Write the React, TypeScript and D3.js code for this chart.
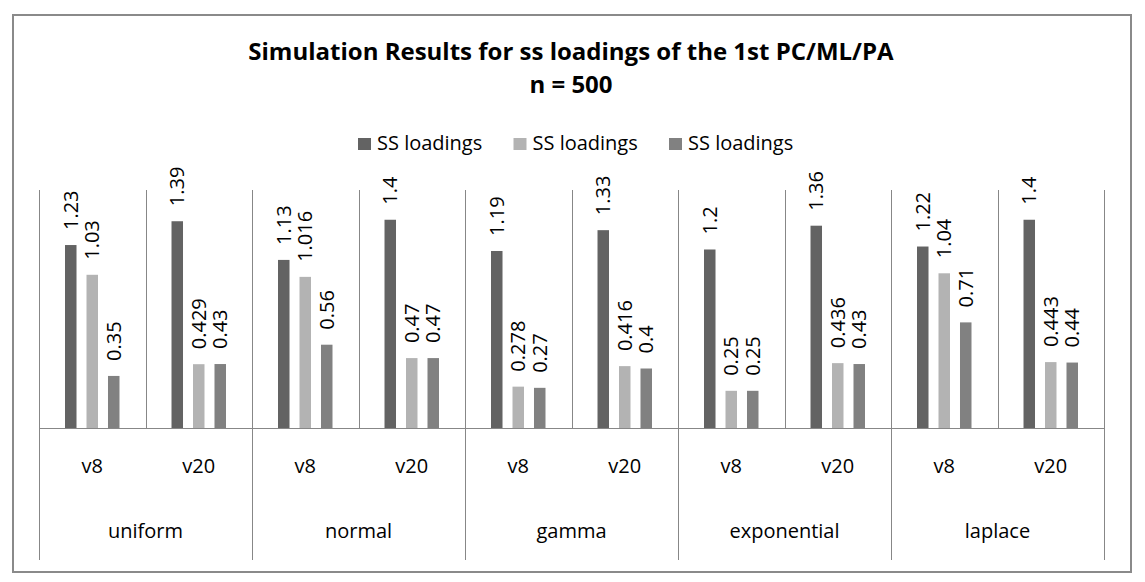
import { useEffect, useRef } from 'react';
import * as d3 from 'd3';

// chart data
const distributions = ['uniform', 'normal', 'gamma', 'exponential', 'laplace'];
const variables = ['v8', 'v20'];
const seriesNames = ['SS loadings', 'SS loadings', 'SS loadings'];
const seriesColors = ['#636363', '#b3b3b3', '#818181'];

// one row per distribution/variable pair, in the order above
const seriesPC = [1.23, 1.39, 1.13, 1.4, 1.19, 1.33, 1.2, 1.36, 1.22, 1.4];
const seriesML = [1.03, 0.429, 1.016, 0.47, 0.278, 0.416, 0.25, 0.436, 1.04, 0.443];
const seriesPA = [0.35, 0.43, 0.56, 0.47, 0.27, 0.4, 0.25, 0.43, 0.71, 0.44];

const FONT = "'Open Sans', 'Noto Sans', sans-serif";

const App = () => {
  const svgRef = useRef<SVGSVGElement>(null);

  useEffect(() => {
    if (!svgRef.current) return;
    document.body.style.margin = '0';

    const svg = d3.select(svgRef.current);
    svg.selectAll('*').remove();

    const width = 1145;
    const height = 582;
    const plot = { left: 39, right: 1104, top: 190, bottom: 428, catBottom: 560 };
    const gray = '#878787';

    // outer frame
    svg.append('rect')
      .attr('x', 13).attr('y', 15)
      .attr('width', 1118).attr('height', 557)
      .attr('fill', 'white')
      .attr('stroke', '#8a8a8a')
      .attr('stroke-width', 2);

    // title
    const title = svg.append('text')
      .attr('text-anchor', 'middle')
      .attr('font-family', FONT)
      .attr('font-weight', 700)
      .attr('font-size', 24)
      .attr('fill', 'black');
    title.append('tspan').attr('x', 571).attr('y', 60)
      .text('Simulation Results for ss loadings of the 1st PC/ML/PA');
    title.append('tspan').attr('x', 571).attr('y', 93).text('n = 500');

    // legend
    const legend = svg.append('g').attr('transform', 'translate(358, 138)');
    seriesNames.forEach((name, i) => {
      const item = legend.append('g').attr('transform', `translate(${i * 155.5}, 0)`);
      item.append('rect').attr('width', 13).attr('height', 12).attr('fill', seriesColors[i]);
      item.append('text')
        .attr('x', 19).attr('y', 12)
        .attr('font-family', FONT)
        .attr('font-size', 20)
        .attr('fill', 'black')
        .text(name);
    });

    // scales
    const groups = distributions.flatMap(d => variables.map(v => `${d}|${v}`));
    const x0 = d3.scaleBand().domain(groups).range([plot.left, plot.right]);
    const x1 = d3.scaleBand<number>()
      .domain([0, 1, 2])
      .range([0, x0.bandwidth()])
      .paddingInner(0.465)
      .paddingOuter(1.21);
    const y = d3.scaleLinear().domain([0, 1.6]).range([plot.bottom, plot.top]);

    // grid lines between groups
    groups.forEach((g, i) => {
      const gx = Math.round(x0(g)!) + 0.5;
      svg.append('line')
        .attr('x1', gx).attr('x2', gx)
        .attr('y1', plot.top).attr('y2', i % 2 === 0 ? plot.catBottom : plot.bottom)
        .attr('stroke', gray);
    });
    svg.append('line')
      .attr('x1', plot.right + 0.5).attr('x2', plot.right + 0.5)
      .attr('y1', plot.top).attr('y2', plot.catBottom)
      .attr('stroke', gray);

    // bars
    const allSeries = [seriesPC, seriesML, seriesPA];
    allSeries.forEach((vals, s) => {
      svg.selectAll(`.bar-${s}`)
        .data(vals)
        .join('rect')
        .attr('class', `bar-${s}`)
        .attr('x', (_, i) => x0(groups[i])! + x1(s)!)
        .attr('y', d => y(d))
        .attr('width', x1.bandwidth())
        .attr('height', d => plot.bottom - y(d))
        .attr('fill', seriesColors[s]);

      svg.selectAll(`.label-${s}`)
        .data(vals)
        .join('text')
        .attr('class', `label-${s}`)
        .attr('transform', (d, i) => {
          const cx = x0(groups[i])! + x1(s)! + x1.bandwidth() / 2;
          return `translate(${cx}, ${y(d) - 15}) rotate(-90)`;
        })
        .attr('dy', '0.36em')
        .attr('font-family', FONT)
        .attr('font-size', 20)
        .attr('fill', 'black')
        .text(d => String(d));
    });

    // baseline
    svg.append('line')
      .attr('x1', plot.left).attr('x2', plot.right + 1)
      .attr('y1', plot.bottom + 0.5).attr('y2', plot.bottom + 0.5)
      .attr('stroke', gray);

    // variable labels
    svg.selectAll('.var-label')
      .data(groups)
      .join('text')
      .attr('class', 'var-label')
      .attr('x', g => x0(g)! + x0.bandwidth() / 2)
      .attr('y', 473)
      .attr('text-anchor', 'middle')
      .attr('font-family', FONT)
      .attr('font-size', 20)
      .attr('fill', 'black')
      .text(g => g.split('|')[1]);

    // distribution labels
    svg.selectAll('.dist-label')
      .data(distributions)
      .join('text')
      .attr('class', 'dist-label')
      .attr('x', d => x0(`${d}|${variables[0]}`)! + x0.bandwidth())
      .attr('y', 538)
      .attr('text-anchor', 'middle')
      .attr('font-family', FONT)
      .attr('font-size', 20)
      .attr('fill', 'black')
      .text(d => d);

    svg.attr('width', width).attr('height', height);
  }, []);

  return (
    <div style={{ position: 'absolute', left: 0, top: 0 }}>
      <svg ref={svgRef} width={1145} height={582} style={{ display: 'block', background: 'white' }} />
    </div>
  );
};

export default App;
